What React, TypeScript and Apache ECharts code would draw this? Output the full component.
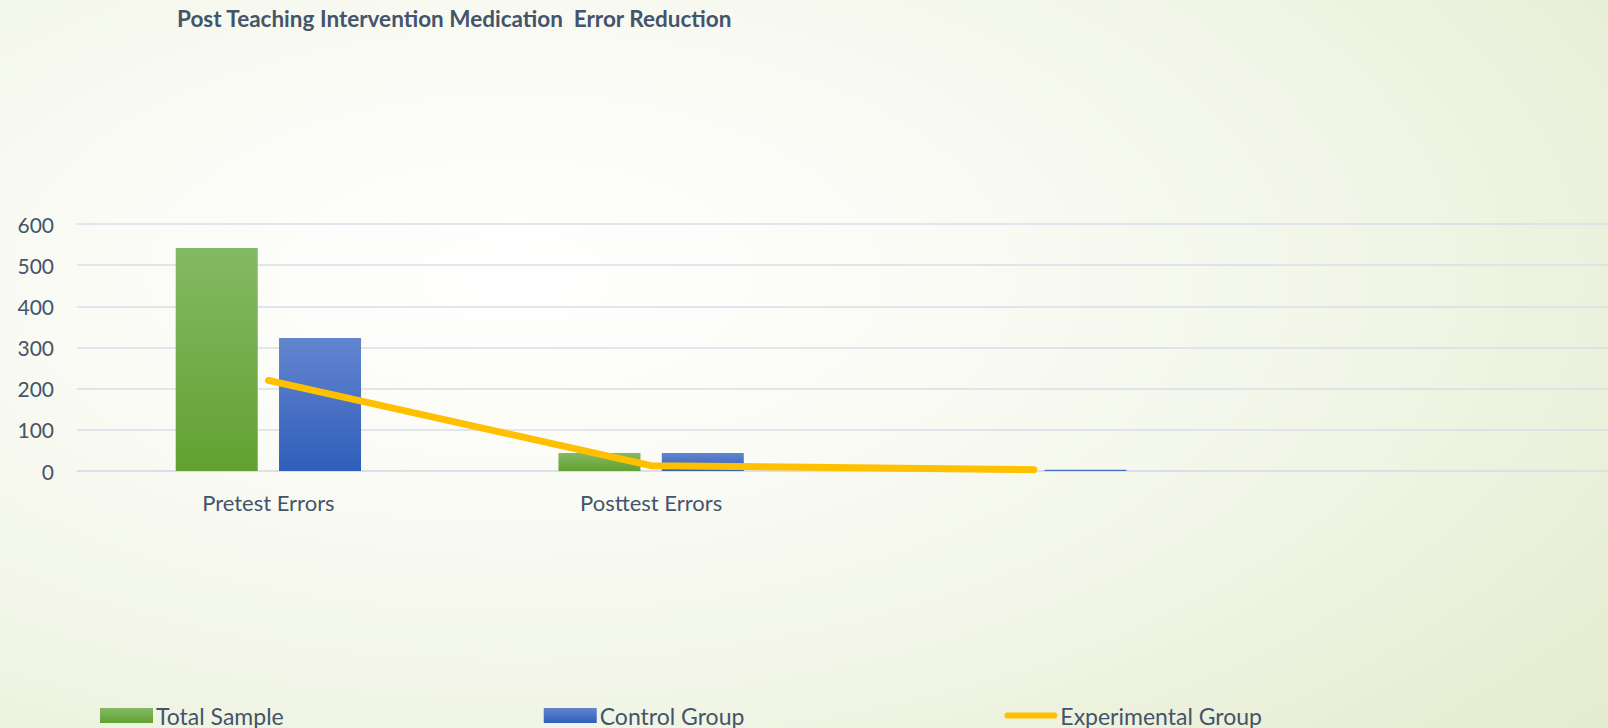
import React, { useEffect, useRef } from "react";
import * as echarts from "echarts";

const categories = ["Pretest Errors", "Posttest Errors", "", ""];
const totalSample = [542, 44, null, null];
const controlGroup = [323, 44, 3, null];
const experimentalGroup = [220, 13, 3, null];
const yTicks = { min: 0, max: 600, interval: 100 };

const TEXT = "#44546A";
const FONT = "Lato";

export default function App() {
  const ref = useRef<HTMLDivElement>(null);
  useEffect(() => {
    document.body.style.margin = "0";
    const chart = echarts.init(ref.current!, null, { renderer: "svg" });
    const greenGrad = new echarts.graphic.LinearGradient(0, 0, 0, 1, [
      { offset: 0, color: "#84B964" },
      { offset: 1, color: "#62A131" },
    ]);
    const blueGrad = new echarts.graphic.LinearGradient(0, 0, 0, 1, [
      { offset: 0, color: "#6385CF" },
      { offset: 1, color: "#2F5EBA" },
    ]);
    chart.setOption({
      animation: false,
      title: {
        text: "Post Teaching Intervention Medication  Error Reduction",
        left: 172,
        top: 2,
        textStyle: { fontFamily: FONT, fontWeight: "bold", fontSize: 22.5, color: TEXT },
      },
      grid: { left: 77, right: 0, top: 224, bottom: 257, containLabel: false },
      legend: {
        left: 100,
        top: 704,
        padding: 0,
        itemWidth: 53,
        itemHeight: 15,
        itemGap: 260,
        textStyle: { fontFamily: FONT, fontSize: 23, color: TEXT, padding: [0, 0, 0, -2] },
        data: [
          { name: "Total Sample", icon: "rect" },
          { name: "Control Group", icon: "rect" },
          {
            name: "Experimental Group",
            icon: "path://M3,0 L50,0 A3,3 0 0 1 50,6 L3,6 A3,3 0 0 1 3,0 Z",
            itemStyle: { color: "#FFC000" },
          },
        ],
      },
      xAxis: {
        type: "category",
        data: categories,
        axisLine: { show: true, lineStyle: { color: "#D9DEE8", width: 1.5 } },
        axisTick: { show: false },
        axisLabel: { fontFamily: FONT, fontSize: 22, color: TEXT, margin: 20 },
      },
      yAxis: {
        type: "value",
        min: yTicks.min,
        max: yTicks.max,
        interval: yTicks.interval,
        axisLine: { show: false },
        axisTick: { show: false },
        axisLabel: { fontFamily: FONT, fontSize: 21, color: TEXT, margin: 23 },
        splitLine: { lineStyle: { color: "#D9DEE8", width: 1.5 } },
      },
      series: [
        {
          name: "Total Sample",
          type: "bar",
          data: totalSample,
          barWidth: 82,
          barGap: "26%",
          itemStyle: { color: greenGrad },
        },
        {
          name: "Control Group",
          type: "bar",
          data: controlGroup,
          barWidth: 82,
          barGap: "26%",
          itemStyle: { color: blueGrad },
        },
        {
          name: "Experimental Group",
          type: "line",
          data: experimentalGroup,
          symbol: "none",
          z: 5,
          lineStyle: { color: "#FFC000", width: 7, cap: "round", join: "round" },
          itemStyle: { color: "#FFC000" },
        },
      ],
    });
    return () => chart.dispose();
  }, []);
  return (
    <div
      style={{
        width: 1608,
        height: 728,
        background:
          "radial-gradient(ellipse 110% 120% at 32% 38%, #FFFFFF 0%, #FAFBF5 25%, #F1F5E6 50%, #E6EDD2 75%, #E0E8C7 100%)",
      }}
    >
      <div ref={ref} style={{ width: 1608, height: 728 }} />
    </div>
  );
}
